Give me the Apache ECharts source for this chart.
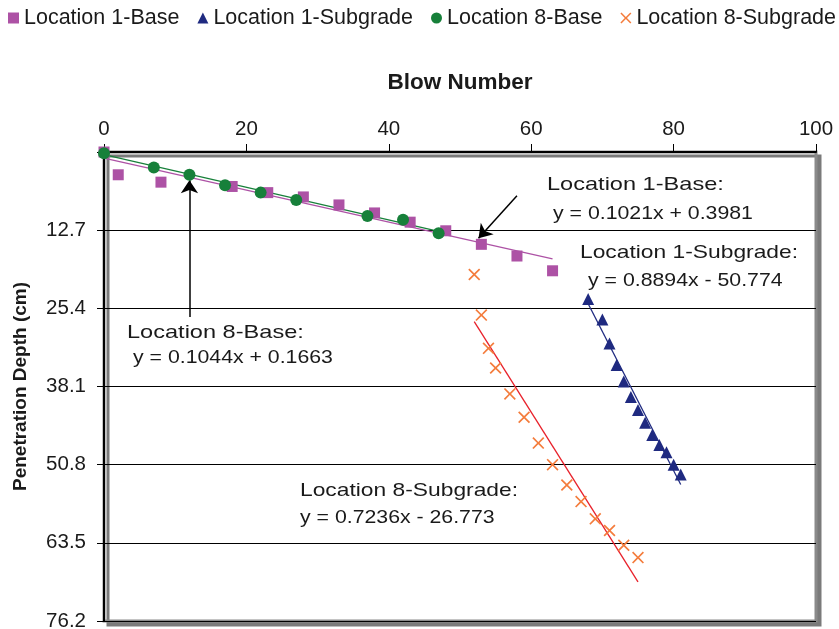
<!DOCTYPE html>
<html><head><meta charset="utf-8">
<script src="https://cdn.jsdelivr.net/npm/echarts@6/dist/echarts.min.js"></script>
<style>html,body{margin:0;padding:0;background:#fff}#c{width:839px;height:629px}</style>
</head><body><div id="c"></div>
<script>
// Location 1-Base (squares)
var l1BaseX = [0, 2, 8, 18, 23, 28, 33, 38, 43, 48, 53, 58, 63];
var l1BaseY = [0, 3.7, 4.9, 5.6, 6.6, 7.3, 8.6, 9.9, 11.4, 12.8, 15.0, 16.9, 19.3];
// Location 1-Subgrade (triangles)
var l1SubX = [68, 70, 71, 72, 73, 74, 75, 76, 77, 78, 79, 80, 81];
var l1SubY = [23.9, 27.2, 31.1, 34.6, 37.3, 39.8, 41.9, 44.0, 46.0, 47.6, 48.8, 50.8, 52.4];
// Location 8-Base (circles)
var l8BaseX = [0, 7, 12, 17, 22, 27, 37, 42, 47];
var l8BaseY = [0.2, 2.5, 3.7, 5.4, 6.6, 7.8, 10.4, 11.0, 13.2];
// Location 8-Subgrade (crosses)
var l8SubX = [52, 53, 54, 55, 57, 59, 61, 63, 65, 67, 69, 71, 73, 75];
var l8SubY = [19.9, 26.5, 31.9, 35.1, 39.3, 43.1, 47.3, 50.8, 54.1, 56.8, 59.6, 61.5, 63.9, 65.9];
// Trend line end points (blow number, depth cm)
var trendL1BaseX = [0, 63];
var trendL1BaseY = [1.01, 17.35];
var trendL8BaseX = [0, 47];
var trendL8BaseY = [0.42, 12.89];
var trendL1SubX = [68, 81];
var trendL1SubY = [24.66, 54.02];
var trendL8SubX = [52, 75];
var trendL8SubY = [27.57, 69.84];
// Axis ticks
var xTicks = [0, 20, 40, 60, 80, 100];
var yTicks = [0, 12.7, 25.4, 38.1, 50.8, 63.5, 76.2];
var seriesNames = ['Location 1-Base', 'Location 1-Subgrade', 'Location 8-Base', 'Location 8-Subgrade'];
// Annotations
var eqTexts = [
  ['Location 1-Base:', 'y = 0.1021x + 0.3981'],
  ['Location 1-Subgrade:', 'y = 0.8894x - 50.774'],
  ['Location 8-Base:', 'y = 0.1044x + 0.1663'],
  ['Location 8-Subgrade:', 'y = 0.7236x - 26.773']
];
// Arrow annotations (blow number, depth cm): start -> tip
var arrowL1Base = [[58.0, 7.1], [52.6, 14.0]];
var arrowL8Base = [[12.0, 26.8], [12.0, 4.6]];

function pairs(xs, ys) { return xs.map(function (x, i) { return [x, ys[i]]; }); }

var FONT = 'Liberation Sans';
var crossPath = 'path://M0,1L1,0L5,4L9,0L10,1L6,5L10,9L9,10L5,6L1,10L0,9L4,5Z';

var C_PINK = '#ad52a5', C_NAVY = '#1f2a80', C_GREEN = '#17803a', C_ORANGE = '#f47c3c', C_RED = '#e8212b';

var chart = echarts.init(document.getElementById('c'), null, {renderer: 'canvas'});

function trend(name, xs, ys, color, extra) {
  var s = {
    name: name + ' trend', type: 'line', data: pairs(xs, ys), showSymbol: false, symbol: 'none',
    lineStyle: {color: color, width: 1.3}, silent: true, z: 3
  };
  if (extra) for (var k in extra) s[k] = extra[k];
  return s;
}

function txt(x, y, s, sx) {
  return {type: 'text', x: x, y: y, scaleX: sx, scaleY: 1, silent: true,
    style: {text: s, font: '19px "' + FONT + '"', fill: '#1a1a1a', textVerticalAlign: 'middle'}};
}

var option = {
  animation: false,
  backgroundColor: '#fff',
  textStyle: {fontFamily: FONT},
  legend: {
    data: seriesNames, top: 7, left: 8, width: 900, padding: 0, itemGap: 18, itemWidth: 11, itemHeight: 11,
    textStyle: {fontSize: 21.5, color: '#1a1a1a', fontFamily: FONT}
  },
  grid: {
    left: 104, top: 152, width: 712, height: 469, show: true, containLabel: false, outerBoundsMode: 'none',
    borderColor: '#8a8a8a', borderWidth: 3, backgroundColor: '#fff',
    shadowColor: '#7a7a7a', shadowOffsetX: 4, shadowOffsetY: 4, shadowBlur: 0
  },
  xAxis: {
    type: 'value', position: 'top', min: xTicks[0], max: xTicks[xTicks.length - 1], interval: 20,
    name: 'Blow Number', nameLocation: 'middle', nameGap: 58,
    nameTextStyle: {fontSize: 22.5, fontWeight: 'bold', color: '#1a1a1a', fontFamily: FONT},
    axisLine: {show: true, lineStyle: {color: '#000', width: 2}},
    axisTick: {show: true, length: 8, lineStyle: {color: '#000', width: 1}},
    axisLabel: {fontSize: 20.5, color: '#1a1a1a', margin: 12, fontFamily: FONT},
    splitLine: {show: false}
  },
  yAxis: {
    type: 'value', inverse: true, min: yTicks[0], max: yTicks[yTicks.length - 1], interval: 12.7,
    name: 'Penetration Depth (cm)', nameLocation: 'middle', nameGap: 74, nameRotate: 90,
    nameTextStyle: {fontSize: 19, fontWeight: 'bold', color: '#1a1a1a', fontFamily: FONT},
    axisLine: {show: true, lineStyle: {color: '#000', width: 2}},
    axisTick: {show: true, length: 7, lineStyle: {color: '#000', width: 1}},
    axisLabel: {fontSize: 20.5, color: '#1a1a1a', margin: 18, fontFamily: FONT,
      formatter: function (v) {
        var best = null;
        yTicks.forEach(function (t) { if (Math.abs(t - v) < 0.01) best = t; });
        if (best === null || best === 0) return '';
        return best.toFixed(1);
      }},
    splitLine: {show: true, lineStyle: {color: '#000', width: 1}}
  },
  series: [
    {name: seriesNames[0], type: 'scatter', symbol: 'rect', symbolSize: 11, data: pairs(l1BaseX, l1BaseY),
      itemStyle: {color: C_PINK, opacity: 1}, z: 4},
    {name: seriesNames[1], type: 'scatter', symbol: 'triangle', symbolSize: 12, data: pairs(l1SubX, l1SubY),
      itemStyle: {color: C_NAVY, opacity: 1}, z: 4},
    {name: seriesNames[2], type: 'scatter', symbol: 'circle', symbolSize: 12, data: pairs(l8BaseX, l8BaseY),
      itemStyle: {color: C_GREEN, opacity: 1}, z: 5},
    {name: seriesNames[3], type: 'scatter', symbol: crossPath, symbolSize: 12, data: pairs(l8SubX, l8SubY),
      itemStyle: {color: C_ORANGE, opacity: 1}, z: 4},
    trend('L1B', trendL1BaseX, trendL1BaseY, C_PINK, {
      markLine: {silent: true, symbol: ['none', 'arrow'], symbolSize: 13, label: {show: false},
        lineStyle: {color: '#000', width: 1.5, type: 'solid'},
        data: [
          [{coord: arrowL1Base[0]}, {coord: arrowL1Base[1]}],
          [{coord: arrowL8Base[0]}, {coord: arrowL8Base[1]}]
        ]}
    }),
    trend('L8B', trendL8BaseX, trendL8BaseY, C_GREEN),
    trend('L1S', trendL1SubX, trendL1SubY, C_NAVY),
    trend('L8S', trendL8SubX, trendL8SubY, C_RED)
  ],
  graphic: [
    txt(547, 185, eqTexts[0][0], 1.24), txt(553, 214, eqTexts[0][1], 1.12),
    txt(580, 253, eqTexts[1][0], 1.2), txt(588, 281, eqTexts[1][1], 1.12),
    txt(127, 333, eqTexts[2][0], 1.24), txt(133, 358, eqTexts[2][1], 1.12),
    txt(300, 491, eqTexts[3][0], 1.2), txt(300, 518, eqTexts[3][1], 1.12)
  ]
};
chart.setOption(option);
</script></body></html>
